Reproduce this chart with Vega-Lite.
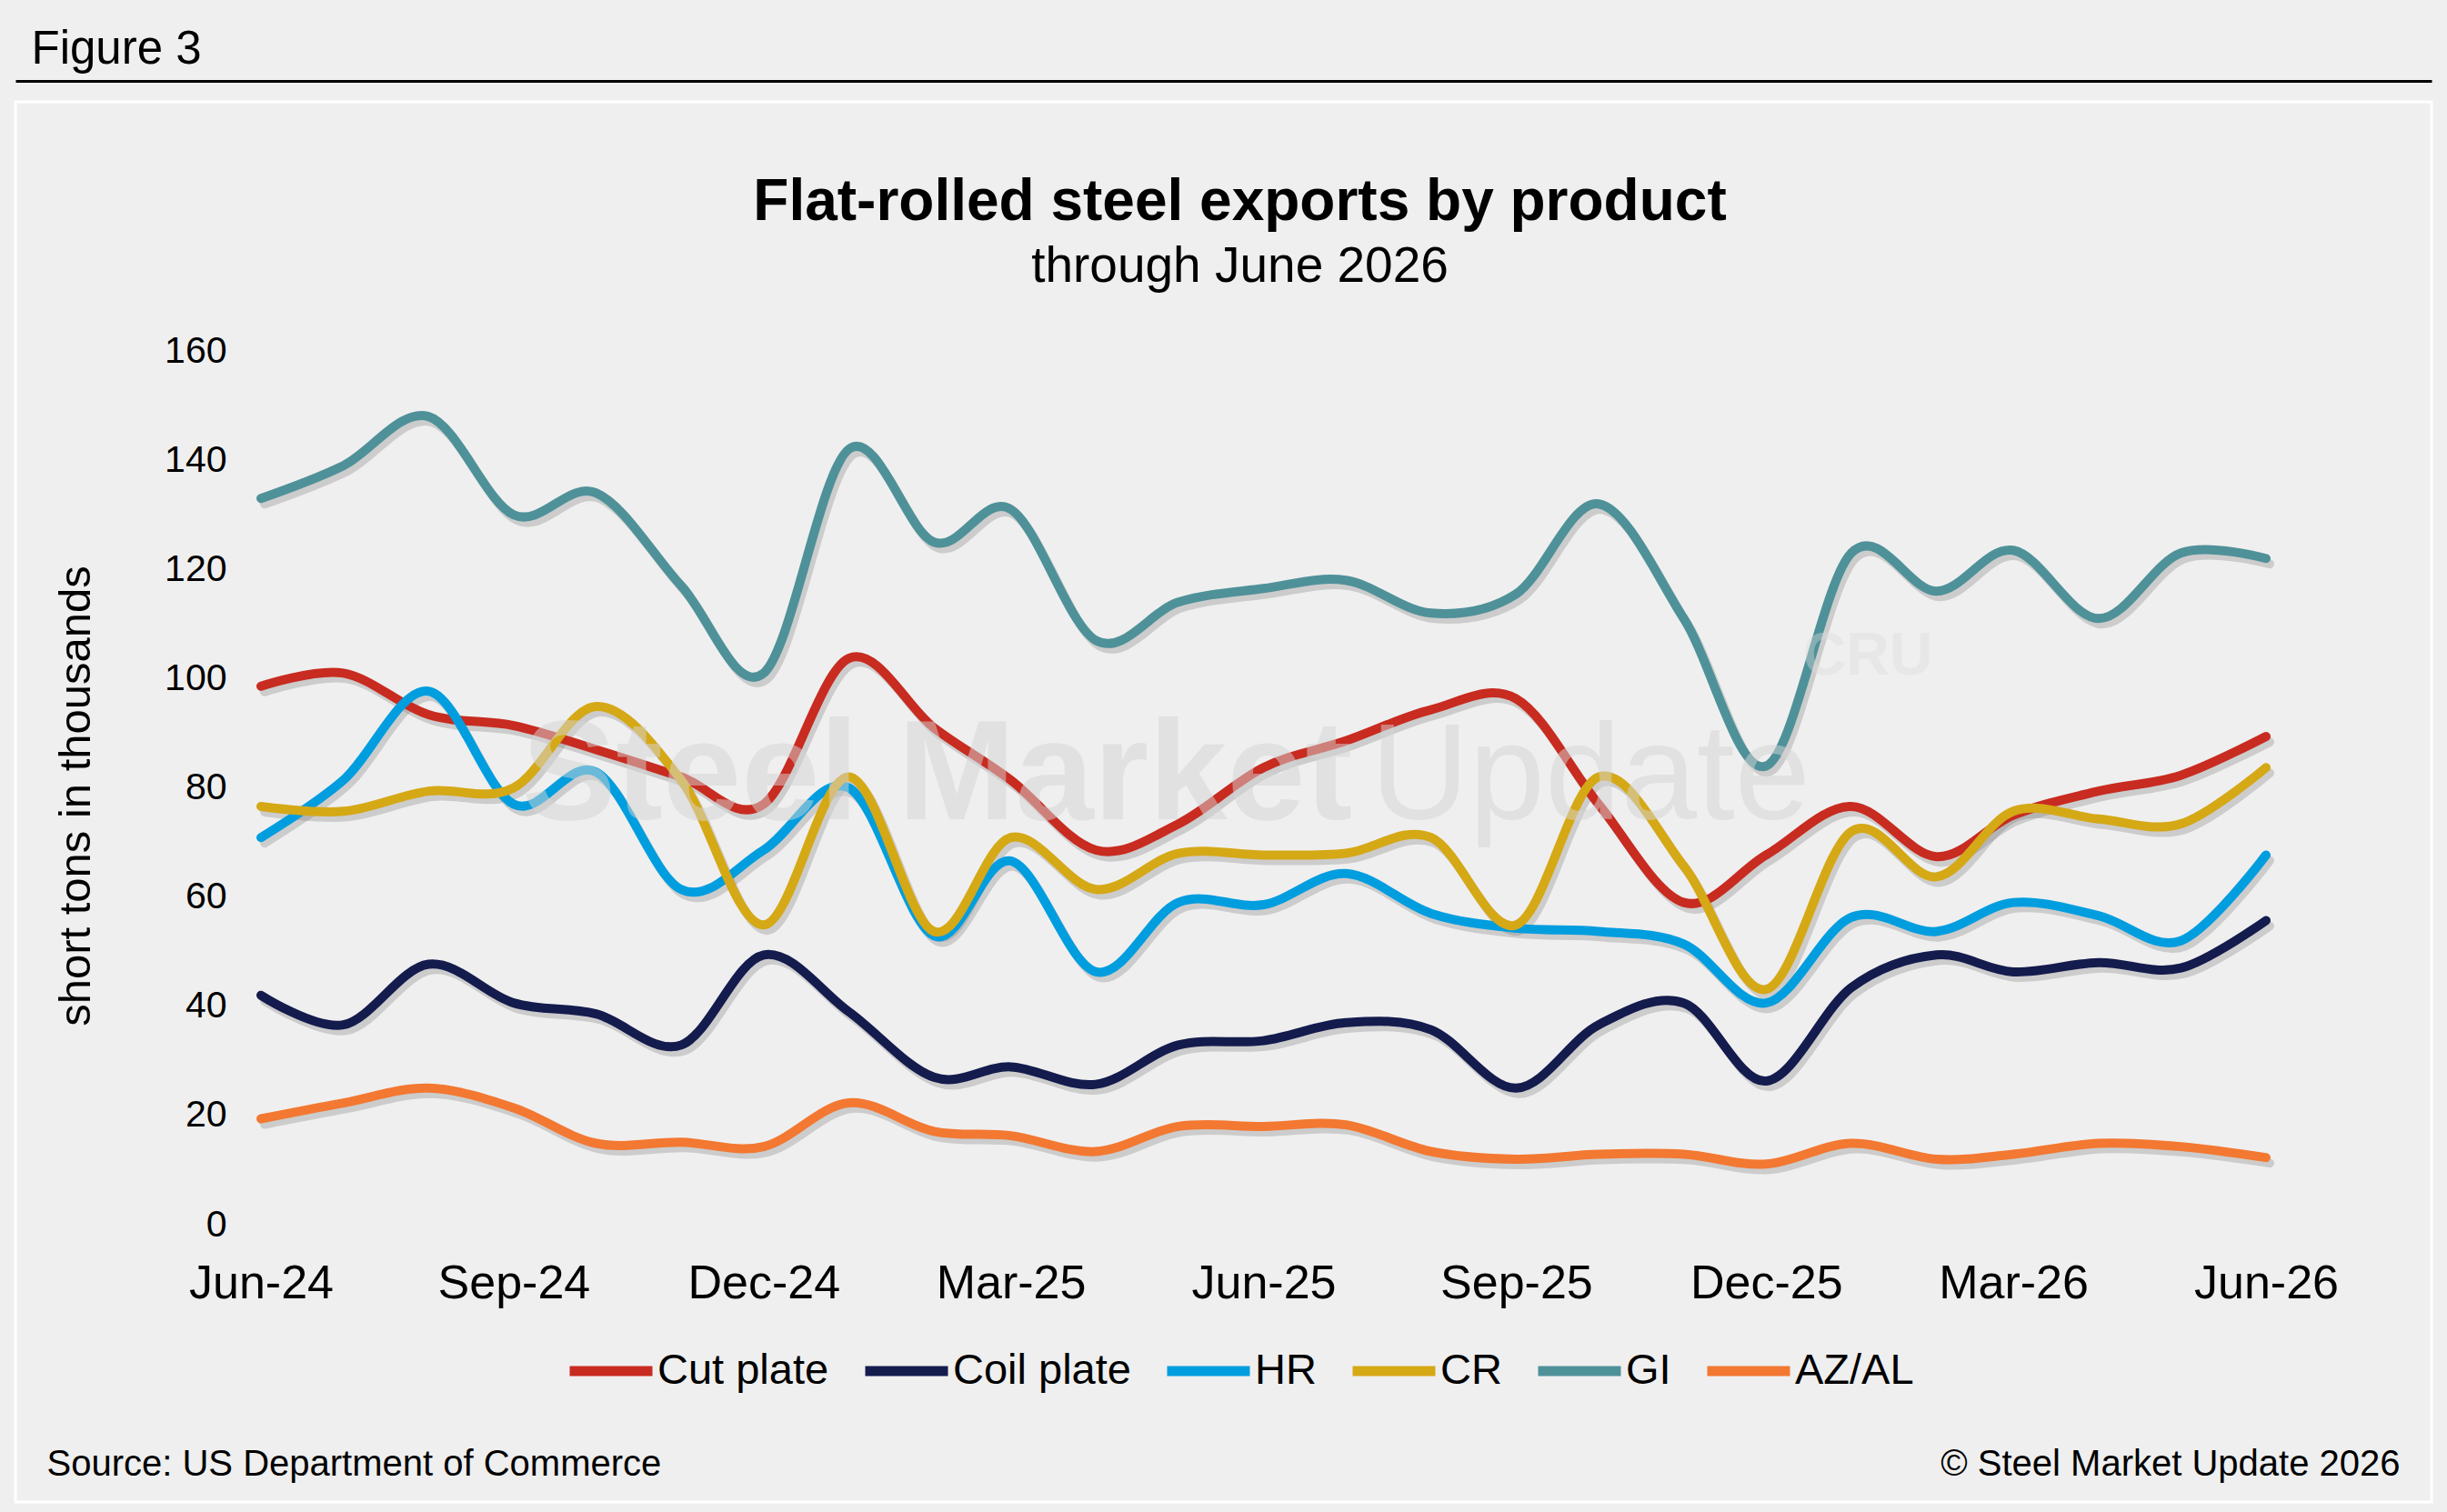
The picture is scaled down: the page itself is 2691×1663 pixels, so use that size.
{
  "$schema": "https://vega.github.io/schema/vega-lite/v6.json",
  "description": "Flat-rolled steel exports by product, monthly, June 2024 through June 2026.",
  "width": 2657,
  "height": 1540,
  "autosize": {"type": "none"},
  "padding": {"left": 17, "top": 112, "right": 17, "bottom": 11},
  "background": "#efefef",
  "config": {
    "font": "Liberation Sans",
    "view": {"stroke": "#ffffff", "strokeWidth": 3, "fill": "#efefef"}
  },
  "title": {
    "text": "Flat-rolled steel exports by product",
    "subtitle": "through June 2026",
    "font": "Liberation Sans",
    "subtitleFont": "Liberation Sans",
    "fontSize": 64,
    "subtitleFontSize": 55,
    "fontWeight": "bold",
    "subtitleFontWeight": "normal",
    "color": "#000000",
    "subtitleColor": "#000000",
    "anchor": "middle",
    "dx": 18,
    "offset": -293,
    "subtitlePadding": 12
  },
  "datasets": {
    "exports": [
      {"month": "2024-06-01", "product": "Cut plate", "tons": 98.6},
      {"month": "2024-07-01", "product": "Cut plate", "tons": 101},
      {"month": "2024-08-01", "product": "Cut plate", "tons": 93.4},
      {"month": "2024-09-01", "product": "Cut plate", "tons": 91.4},
      {"month": "2024-10-01", "product": "Cut plate", "tons": 87},
      {"month": "2024-11-01", "product": "Cut plate", "tons": 82},
      {"month": "2024-12-01", "product": "Cut plate", "tons": 77},
      {"month": "2025-01-01", "product": "Cut plate", "tons": 103.7},
      {"month": "2025-02-01", "product": "Cut plate", "tons": 91},
      {"month": "2025-03-01", "product": "Cut plate", "tons": 81.4},
      {"month": "2025-04-01", "product": "Cut plate", "tons": 68.6},
      {"month": "2025-05-01", "product": "Cut plate", "tons": 73.4},
      {"month": "2025-06-01", "product": "Cut plate", "tons": 83.7},
      {"month": "2025-07-01", "product": "Cut plate", "tons": 88.6},
      {"month": "2025-08-01", "product": "Cut plate", "tons": 94.3},
      {"month": "2025-09-01", "product": "Cut plate", "tons": 96.3},
      {"month": "2025-10-01", "product": "Cut plate", "tons": 77},
      {"month": "2025-11-01", "product": "Cut plate", "tons": 59},
      {"month": "2025-12-01", "product": "Cut plate", "tons": 67.7},
      {"month": "2026-01-01", "product": "Cut plate", "tons": 76.6},
      {"month": "2026-02-01", "product": "Cut plate", "tons": 67.4},
      {"month": "2026-03-01", "product": "Cut plate", "tons": 75},
      {"month": "2026-04-01", "product": "Cut plate", "tons": 79.4},
      {"month": "2026-05-01", "product": "Cut plate", "tons": 82.3},
      {"month": "2026-06-01", "product": "Cut plate", "tons": 89.4},
      {"month": "2024-06-01", "product": "Coil plate", "tons": 42},
      {"month": "2024-07-01", "product": "Coil plate", "tons": 36.6},
      {"month": "2024-08-01", "product": "Coil plate", "tons": 47.7},
      {"month": "2024-09-01", "product": "Coil plate", "tons": 40.6},
      {"month": "2024-10-01", "product": "Coil plate", "tons": 38.6},
      {"month": "2024-11-01", "product": "Coil plate", "tons": 32.9},
      {"month": "2024-12-01", "product": "Coil plate", "tons": 49.4},
      {"month": "2025-01-01", "product": "Coil plate", "tons": 39},
      {"month": "2025-02-01", "product": "Coil plate", "tons": 27},
      {"month": "2025-03-01", "product": "Coil plate", "tons": 28.9},
      {"month": "2025-04-01", "product": "Coil plate", "tons": 25.7},
      {"month": "2025-05-01", "product": "Coil plate", "tons": 32.9},
      {"month": "2025-06-01", "product": "Coil plate", "tons": 33.7},
      {"month": "2025-07-01", "product": "Coil plate", "tons": 37},
      {"month": "2025-08-01", "product": "Coil plate", "tons": 35.7},
      {"month": "2025-09-01", "product": "Coil plate", "tons": 25},
      {"month": "2025-10-01", "product": "Coil plate", "tons": 36.6},
      {"month": "2025-11-01", "product": "Coil plate", "tons": 40.6},
      {"month": "2025-12-01", "product": "Coil plate", "tons": 26.3},
      {"month": "2026-01-01", "product": "Coil plate", "tons": 43.4},
      {"month": "2026-02-01", "product": "Coil plate", "tons": 49.4},
      {"month": "2026-03-01", "product": "Coil plate", "tons": 46.3},
      {"month": "2026-04-01", "product": "Coil plate", "tons": 48},
      {"month": "2026-05-01", "product": "Coil plate", "tons": 47},
      {"month": "2026-06-01", "product": "Coil plate", "tons": 55.7},
      {"month": "2024-06-01", "product": "HR", "tons": 70.9},
      {"month": "2024-07-01", "product": "HR", "tons": 81.4},
      {"month": "2024-08-01", "product": "HR", "tons": 97.7},
      {"month": "2024-09-01", "product": "HR", "tons": 77},
      {"month": "2024-10-01", "product": "HR", "tons": 82.9},
      {"month": "2024-11-01", "product": "HR", "tons": 61.4},
      {"month": "2024-12-01", "product": "HR", "tons": 68.6},
      {"month": "2025-01-01", "product": "HR", "tons": 80},
      {"month": "2025-02-01", "product": "HR", "tons": 52.9},
      {"month": "2025-03-01", "product": "HR", "tons": 66.6},
      {"month": "2025-04-01", "product": "HR", "tons": 46.3},
      {"month": "2025-05-01", "product": "HR", "tons": 59},
      {"month": "2025-06-01", "product": "HR", "tons": 58.6},
      {"month": "2025-07-01", "product": "HR", "tons": 64.3},
      {"month": "2025-08-01", "product": "HR", "tons": 57},
      {"month": "2025-09-01", "product": "HR", "tons": 54.3},
      {"month": "2025-10-01", "product": "HR", "tons": 53.7},
      {"month": "2025-11-01", "product": "HR", "tons": 51.4},
      {"month": "2025-12-01", "product": "HR", "tons": 40.6},
      {"month": "2026-01-01", "product": "HR", "tons": 56.3},
      {"month": "2026-02-01", "product": "HR", "tons": 53.7},
      {"month": "2026-03-01", "product": "HR", "tons": 59},
      {"month": "2026-04-01", "product": "HR", "tons": 56.6},
      {"month": "2026-05-01", "product": "HR", "tons": 52},
      {"month": "2026-06-01", "product": "HR", "tons": 67.7},
      {"month": "2024-06-01", "product": "CR", "tons": 76.6},
      {"month": "2024-07-01", "product": "CR", "tons": 75.7},
      {"month": "2024-08-01", "product": "CR", "tons": 79.4},
      {"month": "2024-09-01", "product": "CR", "tons": 80},
      {"month": "2024-10-01", "product": "CR", "tons": 94.9},
      {"month": "2024-11-01", "product": "CR", "tons": 81.4},
      {"month": "2024-12-01", "product": "CR", "tons": 54.9},
      {"month": "2025-01-01", "product": "CR", "tons": 82},
      {"month": "2025-02-01", "product": "CR", "tons": 53.7},
      {"month": "2025-03-01", "product": "CR", "tons": 70.9},
      {"month": "2025-04-01", "product": "CR", "tons": 61.4},
      {"month": "2025-05-01", "product": "CR", "tons": 68},
      {"month": "2025-06-01", "product": "CR", "tons": 67.7},
      {"month": "2025-07-01", "product": "CR", "tons": 68},
      {"month": "2025-08-01", "product": "CR", "tons": 70.9},
      {"month": "2025-09-01", "product": "CR", "tons": 54.9},
      {"month": "2025-10-01", "product": "CR", "tons": 82},
      {"month": "2025-11-01", "product": "CR", "tons": 65.7},
      {"month": "2025-12-01", "product": "CR", "tons": 43.1},
      {"month": "2026-01-01", "product": "CR", "tons": 72},
      {"month": "2026-02-01", "product": "CR", "tons": 63.7},
      {"month": "2026-03-01", "product": "CR", "tons": 75.7},
      {"month": "2026-04-01", "product": "CR", "tons": 74.3},
      {"month": "2026-05-01", "product": "CR", "tons": 73.4},
      {"month": "2026-06-01", "product": "CR", "tons": 83.7},
      {"month": "2024-06-01", "product": "GI", "tons": 133},
      {"month": "2024-07-01", "product": "GI", "tons": 139},
      {"month": "2024-08-01", "product": "GI", "tons": 148},
      {"month": "2024-09-01", "product": "GI", "tons": 130},
      {"month": "2024-10-01", "product": "GI", "tons": 134},
      {"month": "2024-11-01", "product": "GI", "tons": 117},
      {"month": "2024-12-01", "product": "GI", "tons": 101},
      {"month": "2025-01-01", "product": "GI", "tons": 142},
      {"month": "2025-02-01", "product": "GI", "tons": 125},
      {"month": "2025-03-01", "product": "GI", "tons": 131},
      {"month": "2025-04-01", "product": "GI", "tons": 107},
      {"month": "2025-05-01", "product": "GI", "tons": 114},
      {"month": "2025-06-01", "product": "GI", "tons": 116.5},
      {"month": "2025-07-01", "product": "GI", "tons": 118},
      {"month": "2025-08-01", "product": "GI", "tons": 112},
      {"month": "2025-09-01", "product": "GI", "tons": 115.5},
      {"month": "2025-10-01", "product": "GI", "tons": 132},
      {"month": "2025-11-01", "product": "GI", "tons": 111},
      {"month": "2025-12-01", "product": "GI", "tons": 84},
      {"month": "2026-01-01", "product": "GI", "tons": 123},
      {"month": "2026-02-01", "product": "GI", "tons": 116},
      {"month": "2026-03-01", "product": "GI", "tons": 123.5},
      {"month": "2026-04-01", "product": "GI", "tons": 111},
      {"month": "2026-05-01", "product": "GI", "tons": 123},
      {"month": "2026-06-01", "product": "GI", "tons": 122},
      {"month": "2024-06-01", "product": "AZ/AL", "tons": 19.4},
      {"month": "2024-07-01", "product": "AZ/AL", "tons": 22.3},
      {"month": "2024-08-01", "product": "AZ/AL", "tons": 25},
      {"month": "2024-09-01", "product": "AZ/AL", "tons": 21.4},
      {"month": "2024-10-01", "product": "AZ/AL", "tons": 14.9},
      {"month": "2024-11-01", "product": "AZ/AL", "tons": 15.1},
      {"month": "2024-12-01", "product": "AZ/AL", "tons": 14.3},
      {"month": "2025-01-01", "product": "AZ/AL", "tons": 22.3},
      {"month": "2025-02-01", "product": "AZ/AL", "tons": 17.1},
      {"month": "2025-03-01", "product": "AZ/AL", "tons": 16.3},
      {"month": "2025-04-01", "product": "AZ/AL", "tons": 13.4},
      {"month": "2025-05-01", "product": "AZ/AL", "tons": 18},
      {"month": "2025-06-01", "product": "AZ/AL", "tons": 18},
      {"month": "2025-07-01", "product": "AZ/AL", "tons": 18.3},
      {"month": "2025-08-01", "product": "AZ/AL", "tons": 13.4},
      {"month": "2025-09-01", "product": "AZ/AL", "tons": 12},
      {"month": "2025-10-01", "product": "AZ/AL", "tons": 12.9},
      {"month": "2025-11-01", "product": "AZ/AL", "tons": 12.9},
      {"month": "2025-12-01", "product": "AZ/AL", "tons": 11.1},
      {"month": "2026-01-01", "product": "AZ/AL", "tons": 14.9},
      {"month": "2026-02-01", "product": "AZ/AL", "tons": 12},
      {"month": "2026-03-01", "product": "AZ/AL", "tons": 12.9},
      {"month": "2026-04-01", "product": "AZ/AL", "tons": 14.9},
      {"month": "2026-05-01", "product": "AZ/AL", "tons": 14.3},
      {"month": "2026-06-01", "product": "AZ/AL", "tons": 12.3}
    ]
  },
  "data": {"name": "exports"},
  "layer": [
    {
      "mark": {
        "type": "line",
        "interpolate": "cardinal",
        "strokeWidth": 10,
        "strokeCap": "round",
        "stroke": "#7a7a7a",
        "opacity": 0.3,
        "xOffset": 4,
        "yOffset": 6
      },
      "encoding": {
        "x": {
          "field": "month",
          "type": "temporal",
          "scale": {
            "type": "utc",
            "domain": [
              {"year": 2024, "month": 3, "date": 3, "hours": 14, "minutes": 38, "utc": true},
              {"year": 2026, "month": 7, "date": 31, "hours": 6, "minutes": 14, "utc": true}
            ],
            "nice": false
          },
          "axis": {
            "orient": "top",
            "offset": 23,
            "domain": true,
            "domainColor": "#000000",
            "domainWidth": 3,
            "labels": false,
            "ticks": false,
            "grid": false,
            "title": "Figure 3",
            "titleFont": "Liberation Sans",
            "titleFontSize": 51,
            "titleFontWeight": "normal",
            "titleColor": "#000000",
            "titleAlign": "left",
            "titleBaseline": "alphabetic",
            "titleX": 17,
            "titleY": -20
          }
        },
        "y": {
          "field": "tons",
          "type": "quantitative",
          "scale": {"domain": [-50.78, 205.62], "nice": false, "zero": false},
          "axis": {
            "orient": "right",
            "domain": false,
            "labels": false,
            "ticks": false,
            "grid": false,
            "title": "© Steel Market Update 2026",
            "titleFont": "Liberation Sans",
            "titleFontSize": 40,
            "titleFontWeight": "normal",
            "titleColor": "#000000",
            "titleAngle": 0,
            "titleAlign": "right",
            "titleBaseline": "alphabetic",
            "titleX": -35,
            "titleY": 1510
          }
        },
        "detail": {"field": "product", "type": "nominal"}
      }
    },
    {
      "mark": {"type": "line", "interpolate": "cardinal", "strokeWidth": 10, "strokeCap": "round"},
      "encoding": {
        "x": {
          "field": "month",
          "type": "temporal",
          "scale": {
            "type": "utc",
            "domain": [
              {"year": 2024, "month": 3, "date": 3, "hours": 14, "minutes": 38, "utc": true},
              {"year": 2026, "month": 7, "date": 31, "hours": 6, "minutes": 14, "utc": true}
            ],
            "nice": false
          },
          "axis": {
            "orient": "bottom",
            "offset": -266,
            "values": [
              {"year": 2024, "month": 6, "date": 1, "utc": true},
              {"year": 2024, "month": 9, "date": 1, "utc": true},
              {"year": 2024, "month": 12, "date": 1, "utc": true},
              {"year": 2025, "month": 3, "date": 1, "utc": true},
              {"year": 2025, "month": 6, "date": 1, "utc": true},
              {"year": 2025, "month": 9, "date": 1, "utc": true},
              {"year": 2025, "month": 12, "date": 1, "utc": true},
              {"year": 2026, "month": 3, "date": 1, "utc": true},
              {"year": 2026, "month": 6, "date": 1, "utc": true}
            ],
            "format": "%b-%y",
            "domain": false,
            "ticks": false,
            "grid": false,
            "labelAngle": 0,
            "labelFont": "Liberation Sans",
            "labelFontSize": 52,
            "labelPadding": 0,
            "labelColor": "#000000",
            "labelFlush": false,
            "labelOverlap": false,
            "title": "Source: US Department of Commerce",
            "titleFont": "Liberation Sans",
            "titleFontSize": 40,
            "titleFontWeight": "normal",
            "titleColor": "#000000",
            "titleAlign": "left",
            "titleBaseline": "alphabetic",
            "titleX": 34,
            "titleY": 236
          }
        },
        "y": {
          "field": "tons",
          "type": "quantitative",
          "scale": {"domain": [-50.78, 205.62], "nice": false, "zero": false},
          "axis": {
            "orient": "left",
            "offset": -232,
            "values": [0, 20, 40, 60, 80, 100, 120, 140, 160],
            "domain": false,
            "ticks": false,
            "grid": false,
            "labelFont": "Liberation Sans",
            "labelFontSize": 41,
            "labelPadding": 0,
            "labelColor": "#000000",
            "title": "short tons in thousands",
            "titleFont": "Liberation Sans",
            "titleFontSize": 49,
            "titleFontWeight": "normal",
            "titleColor": "#000000",
            "titleAngle": -90,
            "titleAlign": "center",
            "titleBaseline": "alphabetic",
            "titleX": -151,
            "titleY": 763
          }
        },
        "color": {
          "field": "product",
          "type": "nominal",
          "scale": {
            "domain": ["Cut plate", "Coil plate", "HR", "CR", "GI", "AZ/AL"],
            "range": ["#c82b20", "#141b4d", "#009ddf", "#d5a816", "#4f9199", "#f37831"]
          },
          "legend": {
            "title": null,
            "orient": "none",
            "legendX": 604,
            "legendY": 1345,
            "direction": "horizontal",
            "symbolType": "stroke",
            "symbolStrokeWidth": 11,
            "symbolSize": 8281,
            "labelFont": "Liberation Sans",
            "labelFontSize": 47,
            "labelColor": "#000000",
            "labelLimit": 500,
            "labelOffset": 0,
            "columnPadding": 17,
            "padding": 0
          }
        }
      }
    },
    {
      "data": {"values": [{"wordmark": "Steel Market"}]},
      "mark": {"type": "text", "font": "Liberation Sans", "fontSize": 155, "fontWeight": "bold", "align": "left", "baseline": "alphabetic", "fill": "#d5d5d5", "opacity": 0.5},
      "encoding": {
        "x": {"datum": {"year": 2024, "month": 9, "date": 4, "utc": true}, "type": "temporal", "axis": null},
        "y": {"datum": 74.3, "type": "quantitative", "axis": null},
        "text": {"field": "wordmark", "type": "nominal"}
      }
    },
    {
      "data": {"values": [{"wordmark": "Update"}]},
      "mark": {"type": "text", "font": "Liberation Sans", "fontSize": 150, "fontWeight": "normal", "align": "left", "baseline": "alphabetic", "fill": "#d5d5d5", "opacity": 0.5},
      "encoding": {
        "x": {"datum": {"year": 2025, "month": 7, "date": 10, "utc": true}, "type": "temporal", "axis": null},
        "y": {"datum": 74.3, "type": "quantitative", "axis": null},
        "text": {"field": "wordmark", "type": "nominal"}
      }
    },
    {
      "data": {"values": [{"wordmark": "CRU"}]},
      "mark": {"type": "text", "font": "Liberation Sans", "fontSize": 66, "fontWeight": "bold", "align": "center", "baseline": "middle", "fill": "#dcdcdc", "opacity": 0.4},
      "encoding": {
        "x": {"datum": {"year": 2026, "month": 1, "date": 7, "utc": true}, "type": "temporal", "axis": null},
        "y": {"datum": 104, "type": "quantitative", "axis": null},
        "text": {"field": "wordmark", "type": "nominal"}
      }
    }
  ],
  "resolve": {"axis": {"x": "independent", "y": "independent"}}
}
